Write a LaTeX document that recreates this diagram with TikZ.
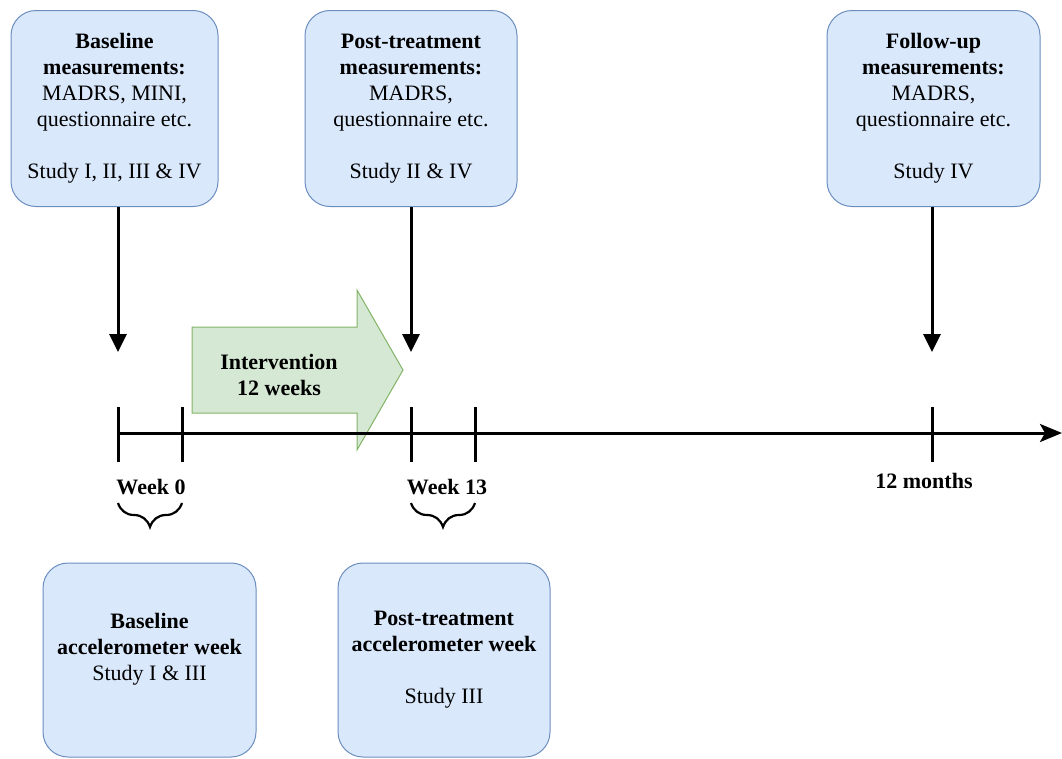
\documentclass[tikz,border=0pt]{standalone}
\usepackage{fontspec}
\setmainfont{Liberation Serif}
\usetikzlibrary{arrows.meta,decorations.pathreplacing}
\definecolor{boxfill}{HTML}{DAE8FC}
\definecolor{boxline}{HTML}{6C8EBF}
\definecolor{grfill}{HTML}{D5E8D4}
\definecolor{grline}{HTML}{82B366}
\tikzset{
  infobox/.style={draw=boxline, fill=boxfill, line width=1pt, rounded corners=25pt,
    minimum width=212pt, minimum height=196pt, align=center, inner sep=0pt,
    font=\fontsize{22}{26}\selectfont},
  pointer/.style={line width=3pt, -{Triangle[width=17pt,length=18pt]}},
  tick/.style={line width=3pt},
  lbl/.style={font=\fontsize{22}{26}\selectfont\bfseries, inner sep=0pt, align=center},
  bracestyle/.style={line width=2.2pt, decorate, decoration={brace, mirror, amplitude=24pt}}
}
\begin{document}
\begin{tikzpicture}[x=1pt,y=-1pt]
\useasboundingbox (0,0) rectangle (1062,758);
% top boxes
\node[infobox, minimum width=207pt] (b1) at (114.5,108.5) {\textbf{Baseline}\\\textbf{measurements:}\\MADRS, MINI,\\questionnaire etc.\\\mbox{}\\Study I, II, III \& IV};
\node[infobox] (b2) at (411,108.5) {\textbf{Post-treatment}\\\textbf{measurements:}\\MADRS,\\questionnaire etc.\\\mbox{}\\Study II \& IV};
\node[infobox, minimum width=213pt] (b3) at (933.5,108.5) {\textbf{Follow-up}\\\textbf{measurements:}\\MADRS,\\questionnaire etc.\\\mbox{}\\Study IV};
% bottom boxes
\node[infobox, minimum width=213pt, minimum height=194pt] (b4) at (149.5,660) {\textbf{Baseline}\\\textbf{accelerometer week}\\Study I \& III\\\mbox{}};
\node[infobox, minimum height=194pt] (b5) at (444,660) {\textbf{Post-treatment}\\\textbf{accelerometer week}\\\mbox{}\\Study III};
% pointer ends
\coordinate (p1) at (118,352);
\coordinate (p2) at (411,352);
\coordinate (p3) at (932,352);
\draw[pointer] (b1.south -| p1) -- (p1);
\draw[pointer] (b2.south -| p2) -- (p2);
\draw[pointer] (b3.south -| p3) -- (p3);
% intervention arrow
\draw[draw=grline, fill=grfill, line width=1pt]
  (192,327) -- (357,327) -- (357,290) -- (403,370) -- (357,450) -- (357,413) -- (192,413) -- cycle;
\node[lbl] (iv) at (279,375) {Intervention\\12 weeks};
% timeline
\coordinate (t0) at (118,433);
\coordinate (tend) at (1062,433);
\draw[line width=3pt, -{Stealth[length=22pt,width=18pt,inset=5pt]}] (t0) -- (tend);
\foreach \xx/\nm in {118/k1,182/k2,411/k3,475/k4,932/k5}{
  \coordinate (\nm a) at (\xx,407);
  \coordinate (\nm b) at (\xx,462);
  \draw[tick] (\nm a) -- (\nm b);
}
% labels
\node[lbl] (w0) at (151,487) {Week 0};
\node[lbl] (w13) at (447,487) {Week 13};
\node[lbl] (m12) at (924,481) {12 months};
% braces
\coordinate (br1a) at (118,503);
\coordinate (br1b) at (182,503);
\coordinate (br2a) at (411,503);
\coordinate (br2b) at (475,503);
\draw[bracestyle] (br1a) -- (br1b);
\draw[bracestyle] (br2a) -- (br2b);
\end{tikzpicture}
\end{document}
